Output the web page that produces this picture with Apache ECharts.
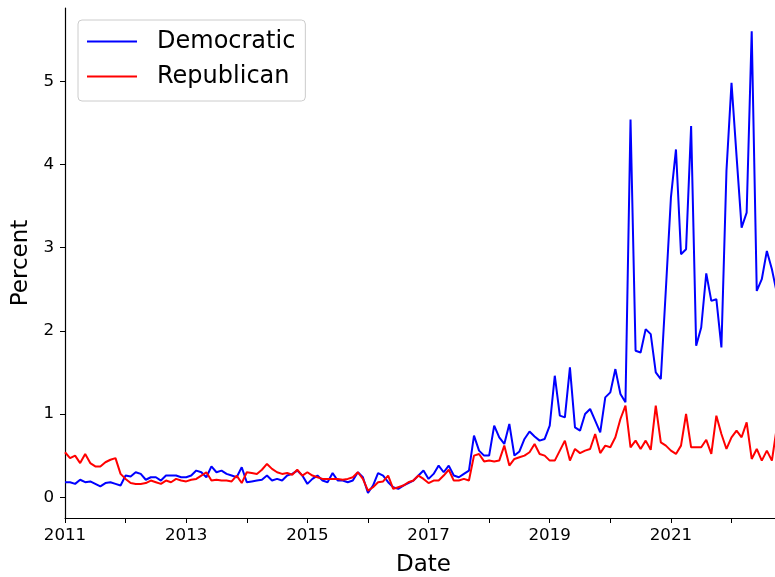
<!DOCTYPE html>
<html>
<head>
<meta charset="utf-8">
<script src="https://cdn.jsdelivr.net/npm/echarts@6/dist/echarts.min.js"></script>
<style>
  html, body { margin: 0; background: #fff; }
  #chart { width: 775px; height: 577px; }
</style>
</head>
<body>
<div id="chart"></div>
<script>
// monthly shares, first value is January 2011
const startYear = 2011
const democratic = [
  0.18, 0.18, 0.16, 0.21, 0.18, 0.19, 0.16, 0.13, 0.17, 0.18, 0.16, 0.14, // 2011
  0.26, 0.25, 0.30, 0.28, 0.21, 0.24, 0.24, 0.20, 0.26, 0.26, 0.26, 0.24, // 2012
  0.24, 0.26, 0.32, 0.30, 0.24, 0.37, 0.30, 0.32, 0.28, 0.26, 0.24, 0.36, // 2013
  0.18, 0.19, 0.20, 0.21, 0.26, 0.20, 0.22, 0.20, 0.26, 0.28, 0.32, 0.26, // 2014
  0.16, 0.22, 0.26, 0.20, 0.18, 0.29, 0.20, 0.20, 0.18, 0.20, 0.30, 0.24, // 2015
  0.05, 0.14, 0.29, 0.26, 0.18, 0.12, 0.10, 0.14, 0.17, 0.20, 0.26, 0.32, // 2016
  0.22, 0.28, 0.38, 0.30, 0.38, 0.26, 0.24, 0.28, 0.32, 0.74, 0.56, 0.50, // 2017
  0.50, 0.86, 0.72, 0.64, 0.88, 0.50, 0.55, 0.70, 0.79, 0.73, 0.68, 0.70, // 2018
  0.86, 1.46, 0.98, 0.96, 1.56, 0.84, 0.80, 1.00, 1.06, 0.92, 0.78, 1.20, // 2019
  1.26, 1.54, 1.24, 1.14, 4.54, 1.76, 1.74, 2.02, 1.96, 1.50, 1.42, 2.50, // 2020
  3.60, 4.18, 2.92, 2.98, 4.46, 1.82, 2.04, 2.69, 2.36, 2.38, 1.80, 3.92, // 2021
  4.98, 4.10, 3.24, 3.42, 5.60, 2.48, 2.62, 2.96, 2.74, 2.45              // 2022
]
const republican = [
  0.54, 0.47, 0.50, 0.41, 0.52, 0.41, 0.37, 0.37, 0.42, 0.45, 0.47, 0.28, // 2011
  0.22, 0.17, 0.16, 0.16, 0.17, 0.20, 0.18, 0.16, 0.20, 0.18, 0.22, 0.20, // 2012
  0.19, 0.21, 0.22, 0.26, 0.30, 0.20, 0.21, 0.20, 0.20, 0.19, 0.26, 0.17, // 2013
  0.30, 0.29, 0.28, 0.33, 0.40, 0.34, 0.30, 0.28, 0.29, 0.27, 0.33, 0.26, // 2014
  0.30, 0.26, 0.24, 0.22, 0.22, 0.22, 0.22, 0.21, 0.22, 0.24, 0.30, 0.22, // 2015
  0.08, 0.12, 0.18, 0.19, 0.26, 0.10, 0.12, 0.14, 0.18, 0.20, 0.26, 0.22, // 2016
  0.17, 0.20, 0.20, 0.26, 0.33, 0.20, 0.20, 0.22, 0.20, 0.50, 0.52, 0.43, // 2017
  0.44, 0.43, 0.44, 0.62, 0.38, 0.46, 0.48, 0.50, 0.54, 0.64, 0.52, 0.50, // 2018
  0.44, 0.44, 0.56, 0.68, 0.44, 0.58, 0.53, 0.56, 0.58, 0.76, 0.53, 0.62, // 2019
  0.60, 0.72, 0.94, 1.10, 0.60, 0.68, 0.58, 0.68, 0.57, 1.10, 0.66, 0.62, // 2020
  0.56, 0.52, 0.62, 1.00, 0.60, 0.60, 0.60, 0.69, 0.52, 0.98, 0.76, 0.58, // 2021
  0.72, 0.80, 0.72, 0.90, 0.46, 0.58, 0.44, 0.56, 0.44, 0.85              // 2022
]
const yTicks = [0, 1, 2, 3, 4, 5]
const xTickYears = [2011, 2012, 2013, 2014, 2015, 2016, 2017, 2018, 2019, 2020, 2021, 2022]
const xLabelYears = [2011, 2013, 2015, 2017, 2019, 2021]

// month index -> fractional year on the value axis
const monthPos = democratic.map((_, i) => startYear + i / 12)
const xEnd = startYear + democratic.length / 12

const font = 'DejaVu Sans'
const chart = echarts.init(document.getElementById('chart'))

const axisCommon = {
  splitLine: { show: false },
  axisLine: { onZero: false, lineStyle: { color: '#000', width: 1.2 } },
  nameTextStyle: { fontSize: 23, fontFamily: font, color: '#000' },
  nameLocation: 'middle'
}

chart.setOption({
  animation: false,
  grid: { left: 65, right: -7, top: 8, bottom: 59, outerBoundsMode: 'none' },
  legend: {
    data: ['Democratic', 'Republican'],
    orient: 'vertical',
    left: 78,
    top: 20,
    icon: 'rect',
    itemWidth: 50,
    itemHeight: 2,
    itemGap: 8,
    padding: [8, 10, 11, 9],
    borderColor: '#cccccc',
    borderWidth: 1,
    borderRadius: 4,
    backgroundColor: '#fff',
    textStyle: { fontSize: 24, fontFamily: font, color: '#000', padding: [0, 0, 0, 15], lineHeight: 27 }
  },
  xAxis: {
    ...axisCommon,
    type: 'value',
    min: startYear,
    max: xEnd,
    name: 'Date',
    nameGap: 36,
    axisTick: { customValues: xTickYears, length: 5, lineStyle: { color: '#000' } },
    axisLabel: {
      customValues: xLabelYears,
      formatter: v => String(v),
      fontSize: 16.7,
      fontFamily: font,
      color: '#000',
      margin: 9
    }
  },
  yAxis: {
    ...axisCommon,
    type: 'value',
    min: -0.25,
    max: 5.88,
    name: 'Percent',
    nameRotate: 90,
    nameGap: 32,
    axisTick: { show: true, customValues: yTicks, length: 5, lineStyle: { color: '#000' } },
    axisLabel: {
      customValues: yTicks,
      formatter: v => String(v),
      fontSize: 16.7,
      fontFamily: font,
      color: '#000',
      margin: 11
    }
  },
  series: [
    {
      name: 'Democratic',
      type: 'line',
      color: '#0000ff',
      showSymbol: false,
      lineStyle: { width: 2 },
      data: democratic.map((v, i) => [monthPos[i], v])
    },
    {
      name: 'Republican',
      type: 'line',
      color: '#ff0000',
      showSymbol: false,
      lineStyle: { width: 2 },
      data: republican.map((v, i) => [monthPos[i], v])
    }
  ]
})
</script>
</body>
</html>
